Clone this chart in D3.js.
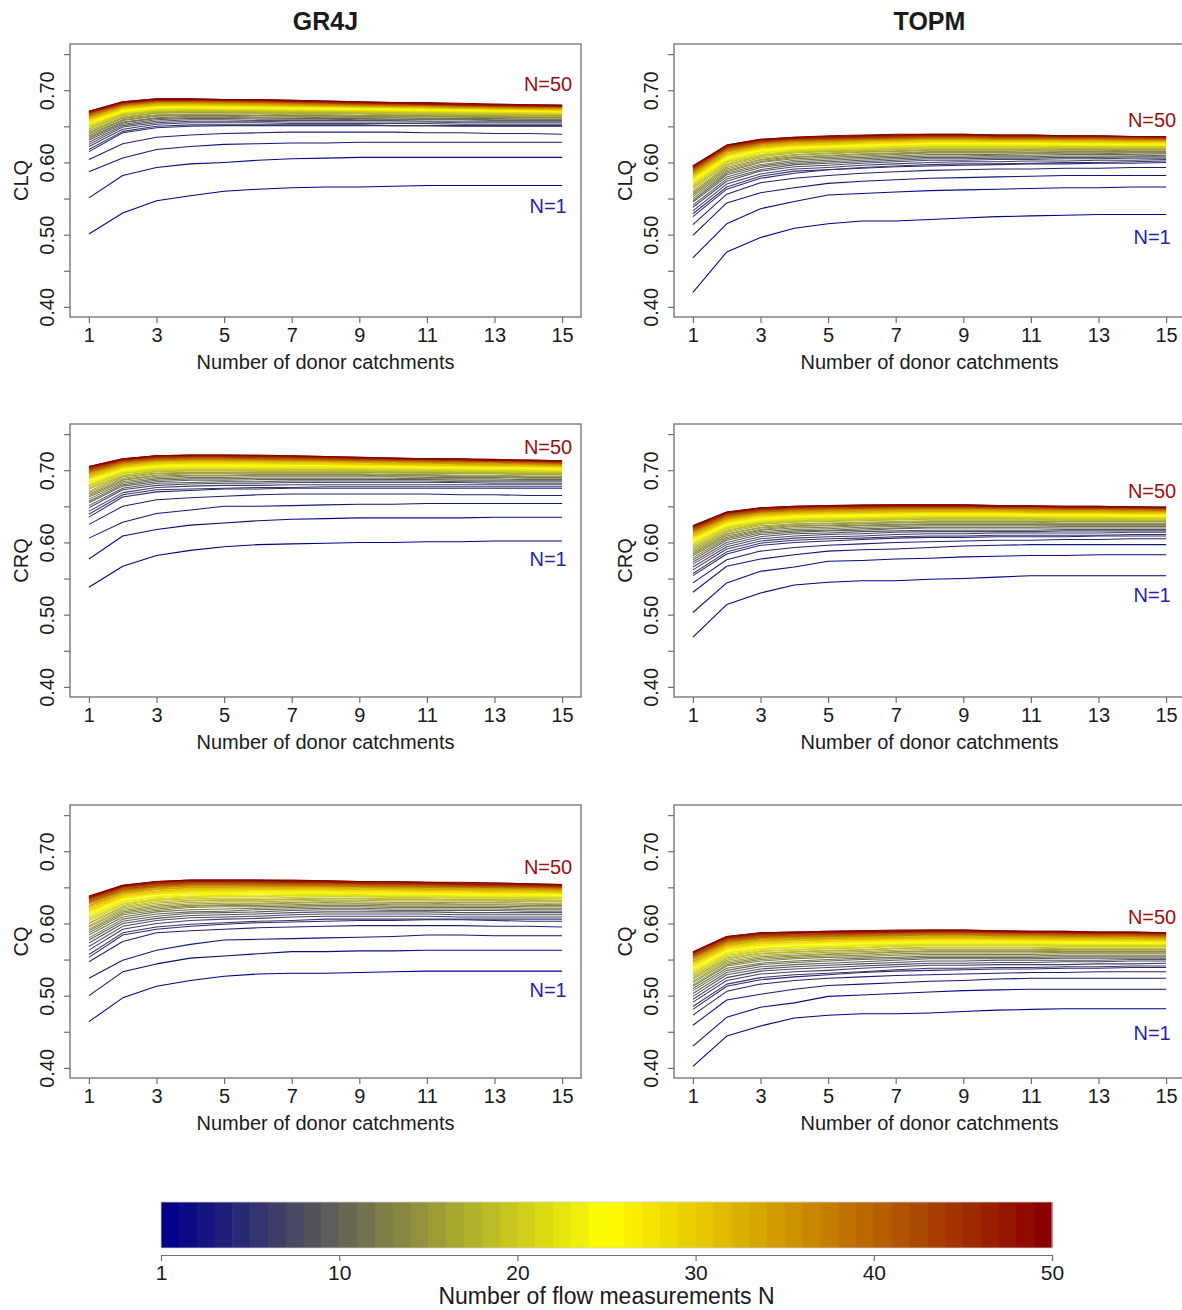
<!DOCTYPE html>
<html>
<head>
<meta charset="utf-8">
<script src="https://cdn.jsdelivr.net/npm/d3@7"></script>
<style>
body { margin: 0; background: #fff; }
text { font-family: "Liberation Sans", Arial, sans-serif; fill: #1a1a1a; }
</style>
</head>
<body>
<div id="chart"></div>
<script>
// x categories: number of donor catchments
const donors = [1, 2, 3, 4, 5, 6, 7, 8, 9, 10, 11, 12, 13, 14, 15];
// one line per number of flow measurements N = 1..50
const flowN = d3.range(1, 51);
const xTickValues = [1, 3, 5, 7, 9, 11, 13, 15];
const yTickValues = [0.40, 0.45, 0.50, 0.55, 0.60, 0.65, 0.70, 0.75];
const yLabelValues = [0.40, 0.50, 0.60, 0.70];
// colour bar ticks sit on cell edges 0,10,..,50; first one is labelled "1"
const barTickValues = [0, 10, 20, 30, 40, 50];
const barTickLabels = ["1", "10", "20", "30", "40", "50"];

// scores x 1000, row i = N=i+1, columns = donors 1..15

const gr4jCLQ = [
[501,530,547,554,560,563,565,566,566,567,568,568,568,568,568],
[551,582,593,598,600,603,605,606,607,607,607,607,607,607,607],
[587,606,618,622,625,626,627,627,628,628,628,628,628,628,628],
[604,626,635,638,640,641,642,642,642,642,641,641,640,640,639],
[615,641,648,650,651,651,651,651,651,651,651,650,650,650,650],
[618,643,650,652,652,652,652,652,652,651,651,651,651,651,651],
[622,646,653,655,655,655,654,654,654,654,654,653,653,653,653],
[625,649,655,657,657,657,656,656,656,656,656,655,655,655,655],
[628,651,657,659,659,658,658,658,658,658,657,657,657,657,657],
[631,653,659,661,661,660,660,660,659,659,659,659,658,658,658],
[633,655,661,662,662,662,661,661,661,660,660,660,659,659,659],
[635,656,662,664,664,663,663,662,662,662,661,661,661,660,660],
[637,658,664,665,665,665,664,664,664,663,663,663,662,662,662],
[639,659,665,666,666,665,665,665,664,664,664,663,663,662,662],
[641,661,666,667,667,667,666,666,665,665,665,664,664,663,663],
[642,662,668,669,669,668,668,667,667,666,666,665,665,664,664],
[644,663,669,670,670,669,669,668,668,667,667,666,666,665,665],
[646,665,670,671,671,670,670,669,669,668,668,667,667,666,666],
[647,666,671,672,672,671,671,670,670,669,669,668,668,667,667],
[649,667,672,673,672,672,671,671,670,670,669,669,668,668,667],
[650,668,673,674,673,673,672,672,671,671,670,670,669,669,668],
[651,669,674,674,674,673,673,672,672,671,671,670,670,669,669],
[652,669,674,675,674,674,673,673,672,672,671,671,670,670,669],
[653,670,675,676,675,675,674,674,673,673,672,672,671,671,670],
[654,671,676,677,676,676,675,674,674,673,673,672,672,671,670],
[655,672,677,677,677,676,676,675,675,674,673,673,672,672,671],
[656,673,678,678,678,677,676,676,675,675,674,673,673,672,671],
[657,673,678,679,678,678,677,676,676,675,674,674,673,673,672],
[658,674,679,679,679,678,677,677,676,676,675,674,674,673,672],
[659,675,679,680,679,679,678,677,677,676,675,675,674,673,673],
[660,675,680,680,680,679,678,678,677,676,676,675,674,674,673],
[660,676,680,681,680,680,679,678,677,677,676,675,675,674,673],
[661,677,681,682,681,680,680,679,678,677,677,676,675,674,674],
[662,677,682,682,681,681,680,679,678,678,677,676,675,675,674],
[663,678,682,682,682,681,680,679,679,678,677,676,676,675,675],
[664,678,683,683,682,682,681,680,679,678,678,677,676,675,675],
[664,679,683,683,683,682,681,680,680,679,678,677,677,676,676],
[665,679,684,684,683,683,682,681,680,679,679,678,677,676,676],
[665,680,684,684,684,683,682,681,680,680,679,678,677,677,676],
[666,680,684,685,684,683,683,682,681,680,679,678,678,677,676],
[667,681,685,685,685,684,683,682,681,680,680,679,678,677,677],
[667,681,685,685,685,684,683,682,681,681,680,679,678,677,677],
[668,681,686,686,685,685,684,683,682,681,680,679,678,678,677],
[668,682,686,686,686,685,684,683,682,681,681,680,679,678,678],
[669,682,686,686,686,685,684,683,682,682,681,680,679,678,678],
[669,683,687,687,686,686,685,684,683,682,681,680,679,679,678],
[670,683,687,687,687,686,685,684,683,682,681,680,680,679,678],
[670,683,687,687,687,686,685,684,683,682,681,681,680,679,679],
[671,684,688,688,687,687,686,685,684,683,682,681,680,680,679],
[671,684,688,688,687,687,686,685,684,683,683,682,681,680,679]
];

const topmCLQ = [
[420,476,496,509,515,519,519,521,523,525,526,527,528,528,528],
[468,515,536,546,555,557,559,561,562,563,564,565,565,566,566],
[499,544,558,565,571,574,576,578,579,580,581,582,582,582,582],
[514,556,572,578,582,585,587,589,590,591,591,592,592,593,593],
[525,563,578,585,590,592,594,595,596,597,598,598,599,599,600],
[529,566,581,588,590,593,595,597,598,598,599,600,600,601,602],
[533,570,584,591,593,596,598,600,601,601,602,602,603,603,604],
[538,574,588,594,596,599,601,603,603,604,604,605,605,606,606],
[541,577,590,597,599,601,603,605,605,606,606,607,607,608,608],
[545,580,593,599,601,603,605,607,607,608,608,609,609,609,610],
[547,583,595,601,603,605,607,609,609,610,610,611,611,611,612],
[550,585,597,603,605,607,609,611,611,611,612,612,612,613,613],
[553,587,600,605,607,609,611,613,613,613,613,614,614,614,614],
[555,589,601,607,609,611,612,614,614,614,614,615,615,615,615],
[557,591,603,608,610,612,613,615,615,615,616,616,616,617,617],
[559,593,604,610,612,614,615,617,617,617,617,618,618,618,618],
[561,595,606,611,613,615,616,618,618,618,618,619,619,619,619],
[564,597,608,613,615,616,618,619,619,619,619,620,620,620,620],
[565,598,609,614,616,617,619,620,620,620,620,621,621,621,621],
[567,600,610,615,617,618,620,621,621,621,621,622,622,622,622],
[568,601,611,616,618,619,621,622,622,622,622,622,622,622,622],
[570,602,613,617,619,620,622,623,623,623,623,623,623,623,623],
[571,603,614,618,620,621,623,624,624,624,624,624,624,624,624],
[573,604,615,619,621,622,624,625,625,625,625,625,624,624,624],
[574,606,616,620,622,623,625,626,626,626,626,625,625,625,625],
[575,607,617,621,623,624,626,627,627,627,627,626,626,626,626],
[577,608,618,622,624,625,627,628,628,628,628,627,627,627,627],
[578,609,619,623,624,626,627,628,628,628,628,627,627,627,627],
[579,610,620,624,625,627,628,629,629,629,629,628,628,628,628],
[580,611,620,624,625,627,628,629,629,629,629,628,628,628,628],
[581,612,621,625,626,628,629,630,630,630,630,629,629,629,629],
[582,612,622,626,627,629,630,631,631,630,630,630,630,629,629],
[583,614,623,627,628,630,631,632,632,631,631,631,631,630,630],
[584,614,623,627,628,630,631,632,632,631,631,631,631,630,630],
[585,615,624,628,629,630,631,632,632,632,632,631,631,631,631],
[586,616,625,629,630,631,632,633,633,632,632,632,632,631,631],
[587,617,626,629,630,632,633,634,634,633,633,633,633,632,632],
[587,617,626,630,631,632,633,634,634,633,633,633,633,632,632],
[588,618,627,630,631,633,634,635,635,634,634,633,633,633,632],
[589,619,627,631,632,633,634,635,635,634,634,634,634,633,633],
[589,619,628,631,632,633,634,635,635,634,634,634,634,633,633],
[590,620,628,632,633,634,635,636,636,635,635,634,634,634,633],
[591,620,629,632,633,634,635,636,636,635,635,635,635,634,634],
[592,621,629,633,634,635,636,637,637,636,636,635,635,635,634],
[592,622,630,633,634,635,636,637,637,636,636,636,636,635,635],
[593,622,630,634,635,636,637,638,638,637,637,636,636,636,635],
[594,623,631,634,635,636,637,638,638,637,637,636,636,636,635],
[594,623,631,634,636,637,638,638,638,637,637,637,636,636,635],
[595,624,632,635,636,637,638,639,639,638,638,637,637,636,636],
[595,624,632,635,637,638,639,639,639,638,638,637,637,636,636]
];

const gr4jCRQ = [
[538,567,582,589,594,597,598,599,600,600,601,601,602,602,602],
[577,609,618,624,627,630,632,633,634,634,634,634,635,635,635],
[606,628,640,645,650,650,651,652,653,653,654,654,654,654,654],
[625,650,659,662,664,666,667,667,667,667,667,666,666,665,665],
[635,663,670,672,674,674,675,675,675,675,675,675,675,675,675],
[639,666,673,674,675,676,676,677,677,677,677,677,677,677,677],
[643,669,676,678,679,679,680,680,680,680,680,680,680,680,680],
[648,673,679,681,682,682,683,683,683,683,683,683,682,682,682],
[651,675,682,683,684,684,685,685,685,685,685,684,684,684,684],
[655,678,684,686,686,687,687,687,687,687,687,686,686,686,686],
[657,680,686,688,688,689,689,689,689,689,688,688,688,687,687],
[660,682,688,690,690,691,691,691,691,691,690,690,690,689,689],
[663,684,690,692,692,693,693,693,693,692,692,691,691,690,690],
[665,686,692,693,693,694,694,694,694,693,693,692,692,691,691],
[667,687,693,695,695,695,695,695,695,694,694,693,693,692,692],
[669,689,695,696,696,697,697,697,697,696,696,695,695,694,694],
[671,691,696,697,697,698,698,698,698,697,697,696,696,695,695],
[674,692,698,699,699,699,699,699,699,698,698,697,697,696,696],
[675,693,699,700,700,700,700,700,700,699,699,698,698,697,697],
[677,695,700,701,701,701,701,701,701,700,700,699,699,698,698],
[678,696,701,702,702,702,702,702,702,701,701,700,700,699,699],
[680,697,702,703,703,703,703,703,702,702,701,701,700,700,699],
[681,698,703,704,704,704,704,704,703,703,702,702,701,701,700],
[683,699,704,705,705,705,705,705,704,704,703,703,702,702,701],
[684,700,705,706,706,706,706,706,705,705,704,704,703,703,702],
[685,701,706,707,707,707,707,707,706,706,705,704,704,703,702],
[687,702,707,708,708,708,708,708,707,707,706,705,705,704,703],
[688,703,708,709,709,709,708,708,707,707,706,706,705,705,704],
[689,704,709,710,710,710,709,709,708,708,707,706,706,705,704],
[690,704,709,710,710,710,709,709,708,708,707,707,706,706,705],
[691,705,710,711,711,711,710,710,709,708,708,707,706,706,705],
[692,706,711,712,712,712,711,711,710,709,709,708,707,707,706],
[693,707,712,713,713,713,712,712,711,710,710,709,708,708,707],
[694,708,712,713,713,713,712,712,711,710,710,709,708,708,707],
[695,708,713,714,714,713,713,712,711,711,710,709,709,708,707],
[696,709,714,715,715,714,714,713,712,712,711,710,710,709,708],
[697,710,714,715,715,715,714,714,713,712,711,711,710,709,708],
[697,710,715,716,716,715,715,714,713,713,712,711,711,710,709],
[698,711,715,716,716,716,715,715,714,713,712,712,711,710,709],
[699,711,716,717,717,716,716,715,714,714,713,712,712,711,710],
[699,712,716,717,717,716,716,715,714,714,713,712,712,711,710],
[700,712,717,718,718,717,717,716,715,714,714,713,712,711,710],
[701,713,717,718,718,717,717,716,715,715,714,713,712,712,711],
[702,713,718,719,719,718,718,717,716,715,715,714,713,712,711],
[702,714,718,719,719,718,718,717,716,716,715,714,713,713,712],
[703,714,719,720,720,719,719,718,717,716,715,715,714,713,712],
[704,715,719,720,720,719,719,718,717,716,715,715,714,713,712],
[704,715,720,720,720,720,719,718,717,716,716,715,714,713,712],
[705,716,720,721,721,720,720,719,718,717,716,715,714,714,713],
[705,716,720,721,721,721,720,719,718,717,716,716,715,714,713]
];

const topmCRQ = [
[469,514,530,541,545,547,547,549,550,552,554,554,554,554,554],
[503,544,560,566,574,575,577,578,580,581,582,582,583,583,583],
[531,567,577,583,588,590,591,593,595,596,597,597,597,597,597],
[544,576,588,593,596,598,600,601,602,603,603,604,604,605,605],
[554,584,596,600,602,604,606,607,607,608,608,608,609,609,609],
[557,587,599,603,605,606,608,609,609,610,610,610,610,611,611],
[562,591,602,606,608,609,611,612,612,613,613,613,613,614,614],
[566,594,605,609,611,612,614,615,615,615,615,616,616,616,616],
[570,597,608,612,613,615,616,617,617,617,617,618,618,618,618],
[573,600,611,614,616,617,619,620,620,620,620,620,620,620,620],
[576,603,613,616,617,619,620,621,621,621,621,622,622,622,622],
[579,605,615,618,619,621,622,623,623,623,623,623,623,623,623],
[582,607,617,620,621,623,624,625,625,625,625,625,625,625,625],
[584,609,618,622,623,624,625,626,626,626,626,626,626,626,626],
[586,611,620,623,624,626,627,628,628,628,628,627,627,627,627],
[588,612,621,625,626,627,628,629,629,629,629,629,629,629,629],
[590,614,623,626,627,628,629,630,630,630,630,630,630,630,630],
[592,616,625,628,629,630,631,632,632,632,632,631,631,631,631],
[593,617,626,629,630,631,632,633,633,633,633,632,632,632,632],
[595,619,627,630,631,632,633,634,634,634,634,633,633,633,633],
[597,620,628,631,632,633,634,635,635,635,635,634,634,634,634],
[598,621,629,632,633,634,635,636,636,636,636,635,635,635,635],
[600,622,630,633,634,635,636,637,637,637,636,636,636,635,635],
[601,623,631,634,635,636,637,638,638,638,637,637,637,636,636],
[602,625,632,635,636,637,638,639,639,639,638,638,638,637,637],
[604,626,633,636,637,638,638,639,639,639,639,638,638,638,638],
[605,627,634,637,638,639,639,640,640,640,640,639,639,639,639],
[606,628,635,638,639,640,640,641,641,641,640,640,640,639,639],
[607,629,636,639,640,641,641,642,642,642,641,641,641,640,640],
[608,629,637,639,640,641,641,642,642,642,641,641,641,640,640],
[609,630,638,640,641,642,642,643,643,643,642,642,642,641,641],
[610,631,638,641,642,642,643,643,643,643,642,642,642,641,641],
[611,632,639,642,643,643,644,644,644,644,643,643,643,642,642],
[612,633,640,642,643,644,644,645,645,645,644,644,644,643,643],
[613,633,640,643,644,644,645,645,645,645,644,644,644,643,643],
[614,634,641,644,645,645,646,646,646,646,645,645,645,644,644],
[615,635,642,644,645,646,646,647,647,646,646,645,645,645,644],
[615,636,642,645,646,646,647,647,647,647,646,646,646,645,645],
[616,636,643,645,646,647,647,648,648,647,647,646,646,646,645],
[617,637,643,646,647,647,648,648,648,647,647,646,646,646,645],
[617,637,644,646,647,647,648,648,648,648,647,647,647,646,646],
[618,638,644,647,648,648,649,649,649,648,648,647,647,647,646],
[619,639,645,647,648,648,649,649,649,649,648,648,648,647,647],
[620,639,645,648,649,649,650,650,650,649,649,648,648,648,647],
[620,640,646,648,649,649,650,650,650,649,649,648,648,648,647],
[621,640,646,649,650,650,651,651,651,650,650,649,649,649,648],
[622,641,647,649,650,650,651,651,651,650,650,649,649,649,648],
[622,641,647,649,650,651,651,651,651,650,650,649,649,649,648],
[623,642,648,650,651,651,652,652,652,651,651,650,650,649,649],
[623,642,648,650,651,652,652,652,652,651,650,650,650,649,649]
];

const gr4jCQ = [
[464,497,513,521,527,530,531,531,532,533,534,534,534,534,534],
[500,533,544,552,555,558,561,561,562,562,563,563,563,563,563],
[524,549,563,571,577,578,579,580,581,582,584,584,583,583,583],
[547,575,587,590,592,594,595,596,597,597,597,597,596,596,595],
[553,584,592,596,599,601,602,603,604,604,605,605,604,603,603],
[557,587,595,599,601,603,604,606,606,606,606,606,606,606,606],
[563,592,600,604,606,607,609,610,610,610,610,609,609,609,609],
[568,596,604,608,609,610,612,613,613,613,613,612,612,612,612],
[573,600,607,611,612,613,615,616,616,616,616,615,615,615,615],
[577,603,610,614,615,616,618,619,619,618,618,618,618,617,617],
[580,606,613,616,617,619,620,621,621,620,620,620,620,619,619],
[584,609,616,619,620,621,622,623,623,622,622,622,622,621,621],
[587,612,618,622,623,623,624,625,625,624,624,624,624,623,623],
[590,614,620,624,625,625,626,627,627,626,626,626,626,625,625],
[592,616,622,625,626,627,628,629,628,628,628,627,627,627,626],
[595,618,624,627,628,628,629,630,630,629,629,629,629,628,628],
[597,620,626,629,630,630,631,632,632,631,631,631,631,630,630],
[600,622,628,631,632,632,633,634,634,633,633,632,632,632,631],
[601,623,630,632,633,633,634,635,635,634,634,633,633,633,632],
[604,625,632,634,635,635,636,637,637,636,636,635,635,635,634],
[606,627,633,636,637,637,638,638,638,637,637,636,636,636,635],
[607,628,634,637,638,638,639,639,639,638,638,637,637,637,636],
[609,630,636,638,639,639,640,640,640,639,639,638,638,638,637],
[611,631,637,640,640,641,641,641,641,640,640,639,639,639,638],
[613,632,638,641,641,642,642,642,642,641,641,640,640,640,639],
[614,634,640,642,642,643,643,643,643,642,642,641,641,641,640],
[616,635,641,643,643,644,644,644,644,643,643,642,642,642,641],
[617,636,642,644,644,645,645,645,644,644,643,643,642,642,641],
[618,637,643,645,645,646,646,646,645,645,644,644,643,643,642],
[619,638,643,646,646,647,647,647,646,646,645,645,644,644,643],
[621,639,645,647,647,648,648,648,647,647,646,646,645,645,644],
[622,640,645,648,648,648,648,648,647,647,646,646,645,645,644],
[624,641,647,649,649,649,649,649,648,648,647,647,646,646,645],
[624,642,647,650,650,650,650,650,649,649,648,648,647,647,646],
[625,643,648,650,650,651,651,651,650,649,649,648,648,647,646],
[627,644,649,652,652,652,652,652,651,650,650,649,649,648,647],
[628,645,650,652,652,652,652,652,651,651,650,650,649,649,648],
[629,645,651,653,653,653,653,653,652,651,651,650,650,649,648],
[630,646,651,654,654,654,653,653,652,652,651,651,650,650,649],
[630,647,652,654,654,654,654,654,653,652,652,651,651,650,649],
[631,647,653,655,655,655,655,655,654,653,653,652,651,651,650],
[632,648,653,656,656,656,655,655,654,654,653,652,652,651,650],
[633,649,654,656,656,656,656,656,655,654,654,653,652,652,651],
[634,650,655,657,657,657,656,656,655,655,654,653,653,652,651],
[635,650,655,657,657,657,657,657,656,655,655,654,653,653,652],
[635,651,656,658,658,658,657,657,656,656,655,654,654,653,652],
[636,652,657,659,659,659,658,658,657,656,656,655,654,654,653],
[637,652,657,659,659,659,658,658,657,657,656,655,655,654,653],
[637,653,658,660,660,660,659,659,658,658,657,656,656,655,654],
[638,653,658,660,660,660,660,659,658,658,657,657,656,655,654]
];

const topmCQ = [
[402,444,458,469,473,475,475,476,478,480,481,482,482,482,482],
[430,470,484,490,499,501,503,505,507,508,509,509,509,509,509],
[459,494,502,509,514,516,518,520,521,523,524,524,524,524,524],
[473,506,516,521,524,526,528,529,530,531,532,532,533,533,533],
[481,513,522,526,529,532,534,535,536,537,537,538,538,539,539],
[485,516,525,529,531,533,536,538,538,539,539,540,540,541,541],
[491,521,530,533,535,538,540,542,542,543,543,543,544,544,545],
[495,525,534,537,539,541,543,545,545,546,546,547,547,548,548],
[499,529,537,540,542,544,546,548,548,549,549,549,549,550,550],
[503,532,540,543,545,547,549,551,551,551,551,552,552,552,552],
[507,535,543,546,548,550,551,553,553,553,553,554,554,554,554],
[510,538,545,548,550,552,553,555,555,555,555,556,556,556,556],
[513,541,548,551,553,554,556,557,557,557,557,558,558,558,558],
[515,543,550,553,555,556,558,559,559,559,559,560,560,560,560],
[518,545,552,555,557,558,560,561,561,561,561,561,561,561,561],
[520,547,554,556,558,559,561,562,562,562,562,563,563,563,563],
[523,549,556,558,560,561,563,564,564,564,564,564,564,564,564],
[525,551,558,560,562,563,565,566,566,566,566,565,565,565,565],
[527,552,559,561,563,564,566,567,567,567,567,566,566,566,566],
[529,554,561,563,565,566,568,569,569,569,569,568,568,568,568],
[531,556,562,564,566,567,569,570,570,570,570,569,569,569,569],
[532,557,564,566,567,569,570,571,571,571,571,570,570,570,570],
[534,559,565,567,568,570,571,572,572,572,572,571,571,571,571],
[535,560,566,568,569,571,572,573,573,573,573,572,572,572,572],
[537,561,568,569,570,572,573,574,574,574,574,573,573,573,573],
[539,563,569,571,572,573,574,575,575,575,575,574,574,574,574],
[540,564,570,572,573,574,575,576,576,576,576,575,575,575,575],
[541,565,571,573,574,575,576,577,577,577,576,576,576,575,575],
[543,566,572,574,575,576,577,578,578,578,577,577,577,576,576],
[543,567,573,574,575,577,578,579,579,578,578,577,577,577,576],
[545,568,574,576,577,578,579,580,580,579,579,578,578,578,577],
[546,569,575,576,577,578,579,580,580,580,579,579,579,578,578],
[547,570,576,577,578,579,580,581,581,581,580,580,580,579,579],
[548,571,577,578,579,580,581,582,582,581,581,580,580,580,579],
[549,572,577,579,580,581,582,583,583,582,582,581,581,581,580],
[551,573,579,580,581,582,583,584,584,583,583,582,582,582,581],
[551,574,579,581,582,582,583,584,584,583,583,582,582,582,581],
[552,574,580,581,582,583,584,585,585,584,584,583,583,583,582],
[553,575,581,582,583,583,584,585,585,584,584,583,583,583,582],
[554,576,581,582,583,584,585,586,586,585,585,584,584,584,583],
[555,576,582,583,584,585,586,587,587,586,585,585,584,584,583],
[555,577,582,584,585,585,586,587,587,586,586,585,585,585,584],
[556,578,583,584,585,586,587,588,588,587,586,586,585,585,584],
[557,579,584,585,586,586,587,588,588,587,587,586,586,586,585],
[558,579,584,586,587,587,588,589,589,588,587,587,586,586,585],
[559,580,585,586,587,587,588,589,589,588,588,587,587,587,586],
[559,581,586,587,588,588,589,590,590,589,588,588,587,587,586],
[560,581,586,587,588,589,589,590,590,589,588,588,587,587,586],
[560,582,587,588,589,590,590,591,591,590,589,589,588,588,587],
[561,582,587,588,589,590,591,591,591,590,589,589,588,588,587]
];

// panel layout (row-major), N=50 / N=1 label heights in score units
const panels = [
    { data: gr4jCLQ, ylabel: "CLQ", col: 0, row: 0, topLabel: 0.709, lowLabel: 0.540 },
    { data: topmCLQ, ylabel: "CLQ", col: 1, row: 0, topLabel: 0.659, lowLabel: 0.497 },
    { data: gr4jCRQ, ylabel: "CRQ", col: 0, row: 1, topLabel: 0.733, lowLabel: 0.577 },
    { data: topmCRQ, ylabel: "CRQ", col: 1, row: 1, topLabel: 0.672, lowLabel: 0.528 },
    { data: gr4jCQ,  ylabel: "CQ",  col: 0, row: 2, topLabel: 0.678, lowLabel: 0.508 },
    { data: topmCQ,  ylabel: "CQ",  col: 1, row: 2, topLabel: 0.609, lowLabel: 0.448 }
];
const colTitles = ["GR4J", "TOPM"];

const W = 1182, H = 1310;
const colLeft = [70, 674];
const rowTop = [44, 424, 805];
const boxW = 511, boxH = 273;
const axisColor = "#6e6e6e";

// colorRampPalette(c("darkblue", "yellow", "darkred")) equivalent
const ramp = d3.piecewise(d3.interpolateRgb, ["#00008B", "#FFFF00", "#8B0000"]);
const colorN = n => ramp((n - 1) / 49);

const svg = d3.select("#chart").append("svg")
    .attr("width", W)
    .attr("height", H)
    .attr("viewBox", `0 0 ${W} ${H}`);

// R style axis ranges (4% padding)
const x = d3.scaleLinear().domain([0.44, 15.56]).range([0, boxW]);
const y = d3.scaleLinear().domain([0.386, 0.764]).range([boxH, 0]);

const line = d3.line()
    .x((d, i) => x(donors[i]))
    .y(d => y(d / 1000));

// column titles
colTitles.forEach((t, c) => {
    svg.append("text")
        .attr("x", colLeft[c] + boxW / 2)
        .attr("y", 30)
        .attr("text-anchor", "middle")
        .style("font-size", "25px")
        .style("font-weight", "bold")
        .text(t);
});

panels.forEach(p => {
    const g = svg.append("g")
        .attr("transform", `translate(${colLeft[p.col]},${rowTop[p.row]})`);

    // lines, N=1 first so N=50 ends on top
    g.append("g").selectAll("path")
        .data(p.data)
        .join("path")
        .attr("d", line)
        .attr("fill", "none")
        .attr("stroke", (d, i) => colorN(flowN[i]))
        .attr("stroke-width", 1.05)
        .attr("stroke-linejoin", "round");

    // x axis
    const xa = g.append("g")
        .attr("transform", `translate(0,${boxH})`)
        .call(d3.axisBottom(x).tickValues(xTickValues).tickSize(6).tickPadding(5).tickSizeOuter(0));
    xa.select(".domain").remove();
    xa.selectAll("line").attr("stroke", axisColor).attr("stroke-width", 1.2);
    xa.selectAll("text").style("font-size", "20px").attr("fill", "#1a1a1a");

    // y axis with rotated labels
    const ya = g.append("g")
        .call(d3.axisLeft(y).tickValues(yTickValues).tickSize(6).tickSizeOuter(0)
            .tickFormat(v => yLabelValues.some(l => Math.abs(l - v) < 1e-6) ? d3.format(".2f")(v) : ""));
    ya.select(".domain").remove();
    ya.selectAll("line").attr("stroke", axisColor).attr("stroke-width", 1.2);
    ya.selectAll("text")
        .attr("x", null).attr("dy", null)
        .attr("transform", "translate(-16,0) rotate(-90)")
        .attr("text-anchor", "middle")
        .style("font-size", "20px")
        .attr("fill", "#1a1a1a");

    // box
    g.append("rect")
        .attr("width", boxW).attr("height", boxH)
        .attr("fill", "none")
        .attr("stroke", axisColor)
        .attr("stroke-width", 1.3);

    // axis titles
    g.append("text")
        .attr("x", boxW / 2)
        .attr("y", boxH + 52)
        .attr("text-anchor", "middle")
        .style("font-size", "20px")
        .text("Number of donor catchments");

    g.append("text")
        .attr("transform", `translate(-42,${boxH / 2}) rotate(-90)`)
        .attr("text-anchor", "middle")
        .style("font-size", "20px")
        .text(p.ylabel);

    // N labels
    g.append("text")
        .attr("x", x(15) - 14)
        .attr("y", y(p.topLabel))
        .attr("dy", "0.36em")
        .attr("text-anchor", "middle")
        .style("font-size", "20px")
        .style("fill", "#a00d0d")
        .text("N=50");

    g.append("text")
        .attr("x", x(15) - 14)
        .attr("y", y(p.lowLabel))
        .attr("dy", "0.36em")
        .attr("text-anchor", "middle")
        .style("font-size", "20px")
        .style("fill", "#1f1fa8")
        .text("N=1");
});

// colour bar: cell N spans [N-1, N]
const barLeft = 161, barRight = 1052, barTop = 1202, barH = 46, barAxisY = 1255;
const barScale = d3.scaleLinear().domain([0, 50]).range([barLeft, barRight]);

svg.append("g").selectAll("rect")
    .data(flowN)
    .join("rect")
    .attr("x", d => barScale(d - 1))
    .attr("y", barTop)
    .attr("width", barScale(1) - barScale(0) + 0.6)
    .attr("height", barH)
    .attr("fill", d => colorN(d));

svg.append("rect")
    .attr("x", barLeft).attr("y", barTop)
    .attr("width", barRight - barLeft).attr("height", barH)
    .attr("fill", "none")
    .attr("stroke", "#cfcfcf")
    .attr("stroke-width", 0.8);

const ba = svg.append("g")
    .attr("transform", `translate(0,${barAxisY})`)
    .call(d3.axisBottom(barScale).tickValues(barTickValues).tickSize(6).tickPadding(4).tickSizeOuter(0)
        .tickFormat((d, i) => barTickLabels[i]));
ba.select(".domain").attr("stroke", axisColor).attr("stroke-width", 1.2);
ba.selectAll("line").attr("stroke", axisColor).attr("stroke-width", 1.2);
ba.selectAll("text").style("font-size", "21px").attr("fill", "#1a1a1a");

svg.append("text")
    .attr("x", (barLeft + barRight) / 2)
    .attr("y", 1304)
    .attr("text-anchor", "middle")
    .style("font-size", "23px")
    .text("Number of flow measurements N");
</script>
</body>
</html>
